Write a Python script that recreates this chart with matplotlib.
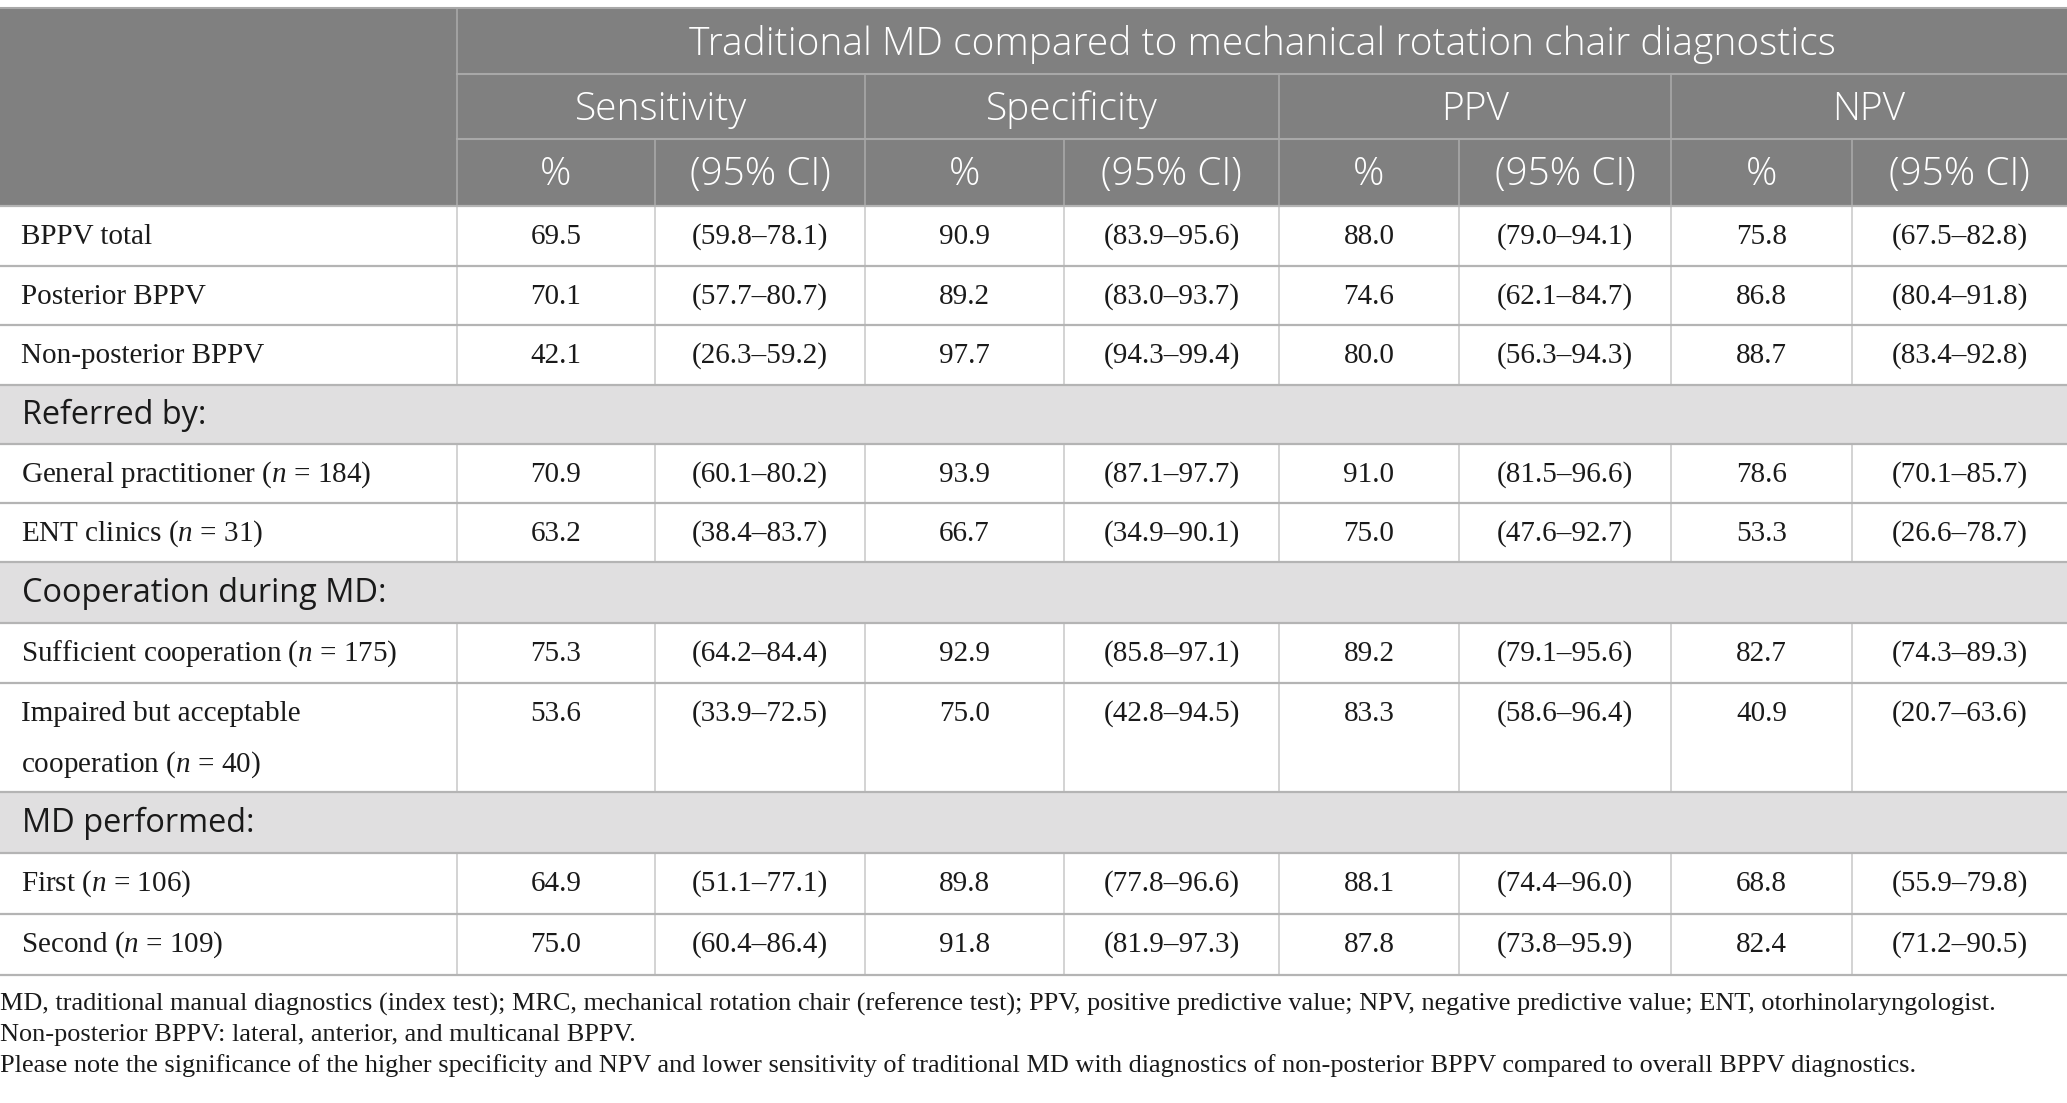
import matplotlib
matplotlib.use("Agg")
from matplotlib import pyplot as plt
from matplotlib.patches import Rectangle

plt.rcParams['mathtext.fontset'] = 'custom'
plt.rcParams['mathtext.rm'] = 'Liberation Serif'
plt.rcParams['mathtext.it'] = 'Liberation Serif:italic'

# %% Data
title = "Traditional MD compared to mechanical rotation chair diagnostics"
metrics = ["Sensitivity", "Specificity", "PPV", "NPV"]
sub_cols = ["%", "(95% CI)"]

# (label, section?)  section rows carry no values
rows = [
    ("BPPV total", False),
    ("Posterior BPPV", False),
    ("Non-posterior BPPV", False),
    ("Referred by:", True),
    ("General practitioner ($n$ = 184)", False),
    ("ENT clinics ($n$ = 31)", False),
    ("Cooperation during MD:", True),
    ("Sufficient cooperation ($n$ = 175)", False),
    ("Impaired but acceptable\ncooperation ($n$ = 40)", False),
    ("MD performed:", True),
    ("First ($n$ = 106)", False),
    ("Second ($n$ = 109)", False),
]

sens = [69.5, 70.1, 42.1, 70.9, 63.2, 75.3, 53.6, 64.9, 75.0]
sens_ci = [(59.8, 78.1), (57.7, 80.7), (26.3, 59.2), (60.1, 80.2), (38.4, 83.7),
           (64.2, 84.4), (33.9, 72.5), (51.1, 77.1), (60.4, 86.4)]
spec = [90.9, 89.2, 97.7, 93.9, 66.7, 92.9, 75.0, 89.8, 91.8]
spec_ci = [(83.9, 95.6), (83.0, 93.7), (94.3, 99.4), (87.1, 97.7), (34.9, 90.1),
           (85.8, 97.1), (42.8, 94.5), (77.8, 96.6), (81.9, 97.3)]
ppv = [88.0, 74.6, 80.0, 91.0, 75.0, 89.2, 83.3, 88.1, 87.8]
ppv_ci = [(79.0, 94.1), (62.1, 84.7), (56.3, 94.3), (81.5, 96.6), (47.6, 92.7),
          (79.1, 95.6), (58.6, 96.4), (74.4, 96.0), (73.8, 95.9)]
npv = [75.8, 86.8, 88.7, 78.6, 53.3, 82.7, 40.9, 68.8, 82.4]
npv_ci = [(67.5, 82.8), (80.4, 91.8), (83.4, 92.8), (70.1, 85.7), (26.6, 78.7),
          (74.3, 89.3), (20.7, 63.6), (55.9, 79.8), (71.2, 90.5)]

footnotes = [
    "MD, traditional manual diagnostics (index test); MRC, mechanical rotation chair (reference test); "
    "PPV, positive predictive value; NPV, negative predictive value; ENT, otorhinolaryngologist.",
    "Non-posterior BPPV: lateral, anterior, and multicanal BPPV.",
    "Please note the significance of the higher specificity and NPV and lower sensitivity of traditional MD "
    "with diagnostics of non-posterior BPPV compared to overall BPPV diagnostics.",
]

# %% Layout (pixels)
W, H = 2067, 1103
col_x = [0, 457, 655, 865, 1064, 1279, 1459, 1671, 1852, 2067]
head_y = [8, 74, 139, 206]
row_y = [206, 266, 325, 385, 444, 503, 562, 623, 683, 792, 853, 914, 975]
foot_y = [1004, 1035, 1066]

SERIF = 'Liberation Serif'
SANS = 'Open Sans'
HEAD_BG = '#808080'
SEC_BG = '#e0dfe0'
HLINE = '#b4b4b4'
VLINE = '#c8c8c8'
HEAD_FS = 28

fig = plt.figure(figsize=(W / 100, H / 100), dpi=100)
ax = fig.add_axes([0, 0, 1, 1])
ax.set_xlim(0, W)
ax.set_ylim(H, 0)
ax.axis('off')

# header block
ax.add_patch(Rectangle((0, head_y[0]), W, head_y[-1] - head_y[0], color=HEAD_BG, lw=0))
ax.plot([0, W], [head_y[0], head_y[0]], color='#a8a8a8', lw=1.5)
ax.plot([col_x[1], W], [head_y[1], head_y[1]], color='#a8a8a8', lw=1.5)
ax.plot([col_x[1], W], [head_y[2], head_y[2]], color='#a8a8a8', lw=1.5)
ax.plot([col_x[1], col_x[1]], [head_y[0], head_y[3]], color='#a8a8a8', lw=1.2)
for k in range(1, 4):
    x = col_x[1 + 2 * k]
    ax.plot([x, x], [head_y[1], head_y[3]], color='#a8a8a8', lw=1.2)
for k in range(4):
    x = col_x[2 + 2 * k]
    ax.plot([x, x], [head_y[2], head_y[3]], color='#a8a8a8', lw=1.2)

ax.text((col_x[1] + W) / 2, (head_y[0] + head_y[1]) / 2 + 3, title, color='white',
        family=SANS, fontsize=HEAD_FS, fontweight='light', ha='center', va='center')
for k, m in enumerate(metrics):
    x0, x1 = col_x[1 + 2 * k], col_x[3 + 2 * k]
    ax.text((x0 + x1) / 2, (head_y[1] + head_y[2]) / 2 + 3, m, color='white',
            family=SANS, fontsize=HEAD_FS, fontweight='light', ha='center', va='center')
    for j, s in enumerate(sub_cols):
        a, b = col_x[1 + 2 * k + j], col_x[2 + 2 * k + j]
        ax.text((a + b) / 2, (head_y[2] + head_y[3]) / 2 + 2, s, color='white',
                family=SANS, fontsize=HEAD_FS, fontweight='light', ha='center', va='center')

# body
values = list(zip(sens, sens_ci, spec, spec_ci, ppv, ppv_ci, npv, npv_ci))
vi = 0
for i, (label, section) in enumerate(rows):
    y0, y1 = row_y[i], row_y[i + 1]
    if section:
        ax.add_patch(Rectangle((0, y0), W, y1 - y0, color=SEC_BG, lw=0))
        ax.text(22, (y0 + y1) / 2 + 1, label, family=SANS, fontsize=23.4,
                ha='left', va='center', color='#1a1a1a')
        continue
    for x in col_x[1:-1]:
        ax.plot([x, x], [y0, y1], color=VLINE, lw=1.1)
    ytxt = y0 + 31
    lines = label.split('\n')
    for li, t in enumerate(lines):
        ax.text(21, ytxt + li * 51, t, family=SERIF, fontsize=21,
                ha='left', va='center', color='#1a1a1a')
    rec = values[vi]
    vi += 1
    cells = []
    for k in range(4):
        cells.append(f"{rec[2 * k]:.1f}")
        lo, hi = rec[2 * k + 1]
        cells.append(f"({lo:.1f}\u2013{hi:.1f})")
    for c, t in enumerate(cells):
        xc = (col_x[1 + c] + col_x[2 + c]) / 2
        ax.text(xc, ytxt, t, family=SERIF, fontsize=21, ha='center', va='center',
                color='#1a1a1a')

for y in row_y:
    ax.plot([0, W], [y, y], color=HLINE, lw=1.6)

for y, t in zip(foot_y, footnotes):
    ax.text(0, y, t, family=SERIF, fontsize=18.9, ha='left', va='center', color='#1a1a1a')

fig.savefig("out.png", dpi=100)
plt.close(fig)
